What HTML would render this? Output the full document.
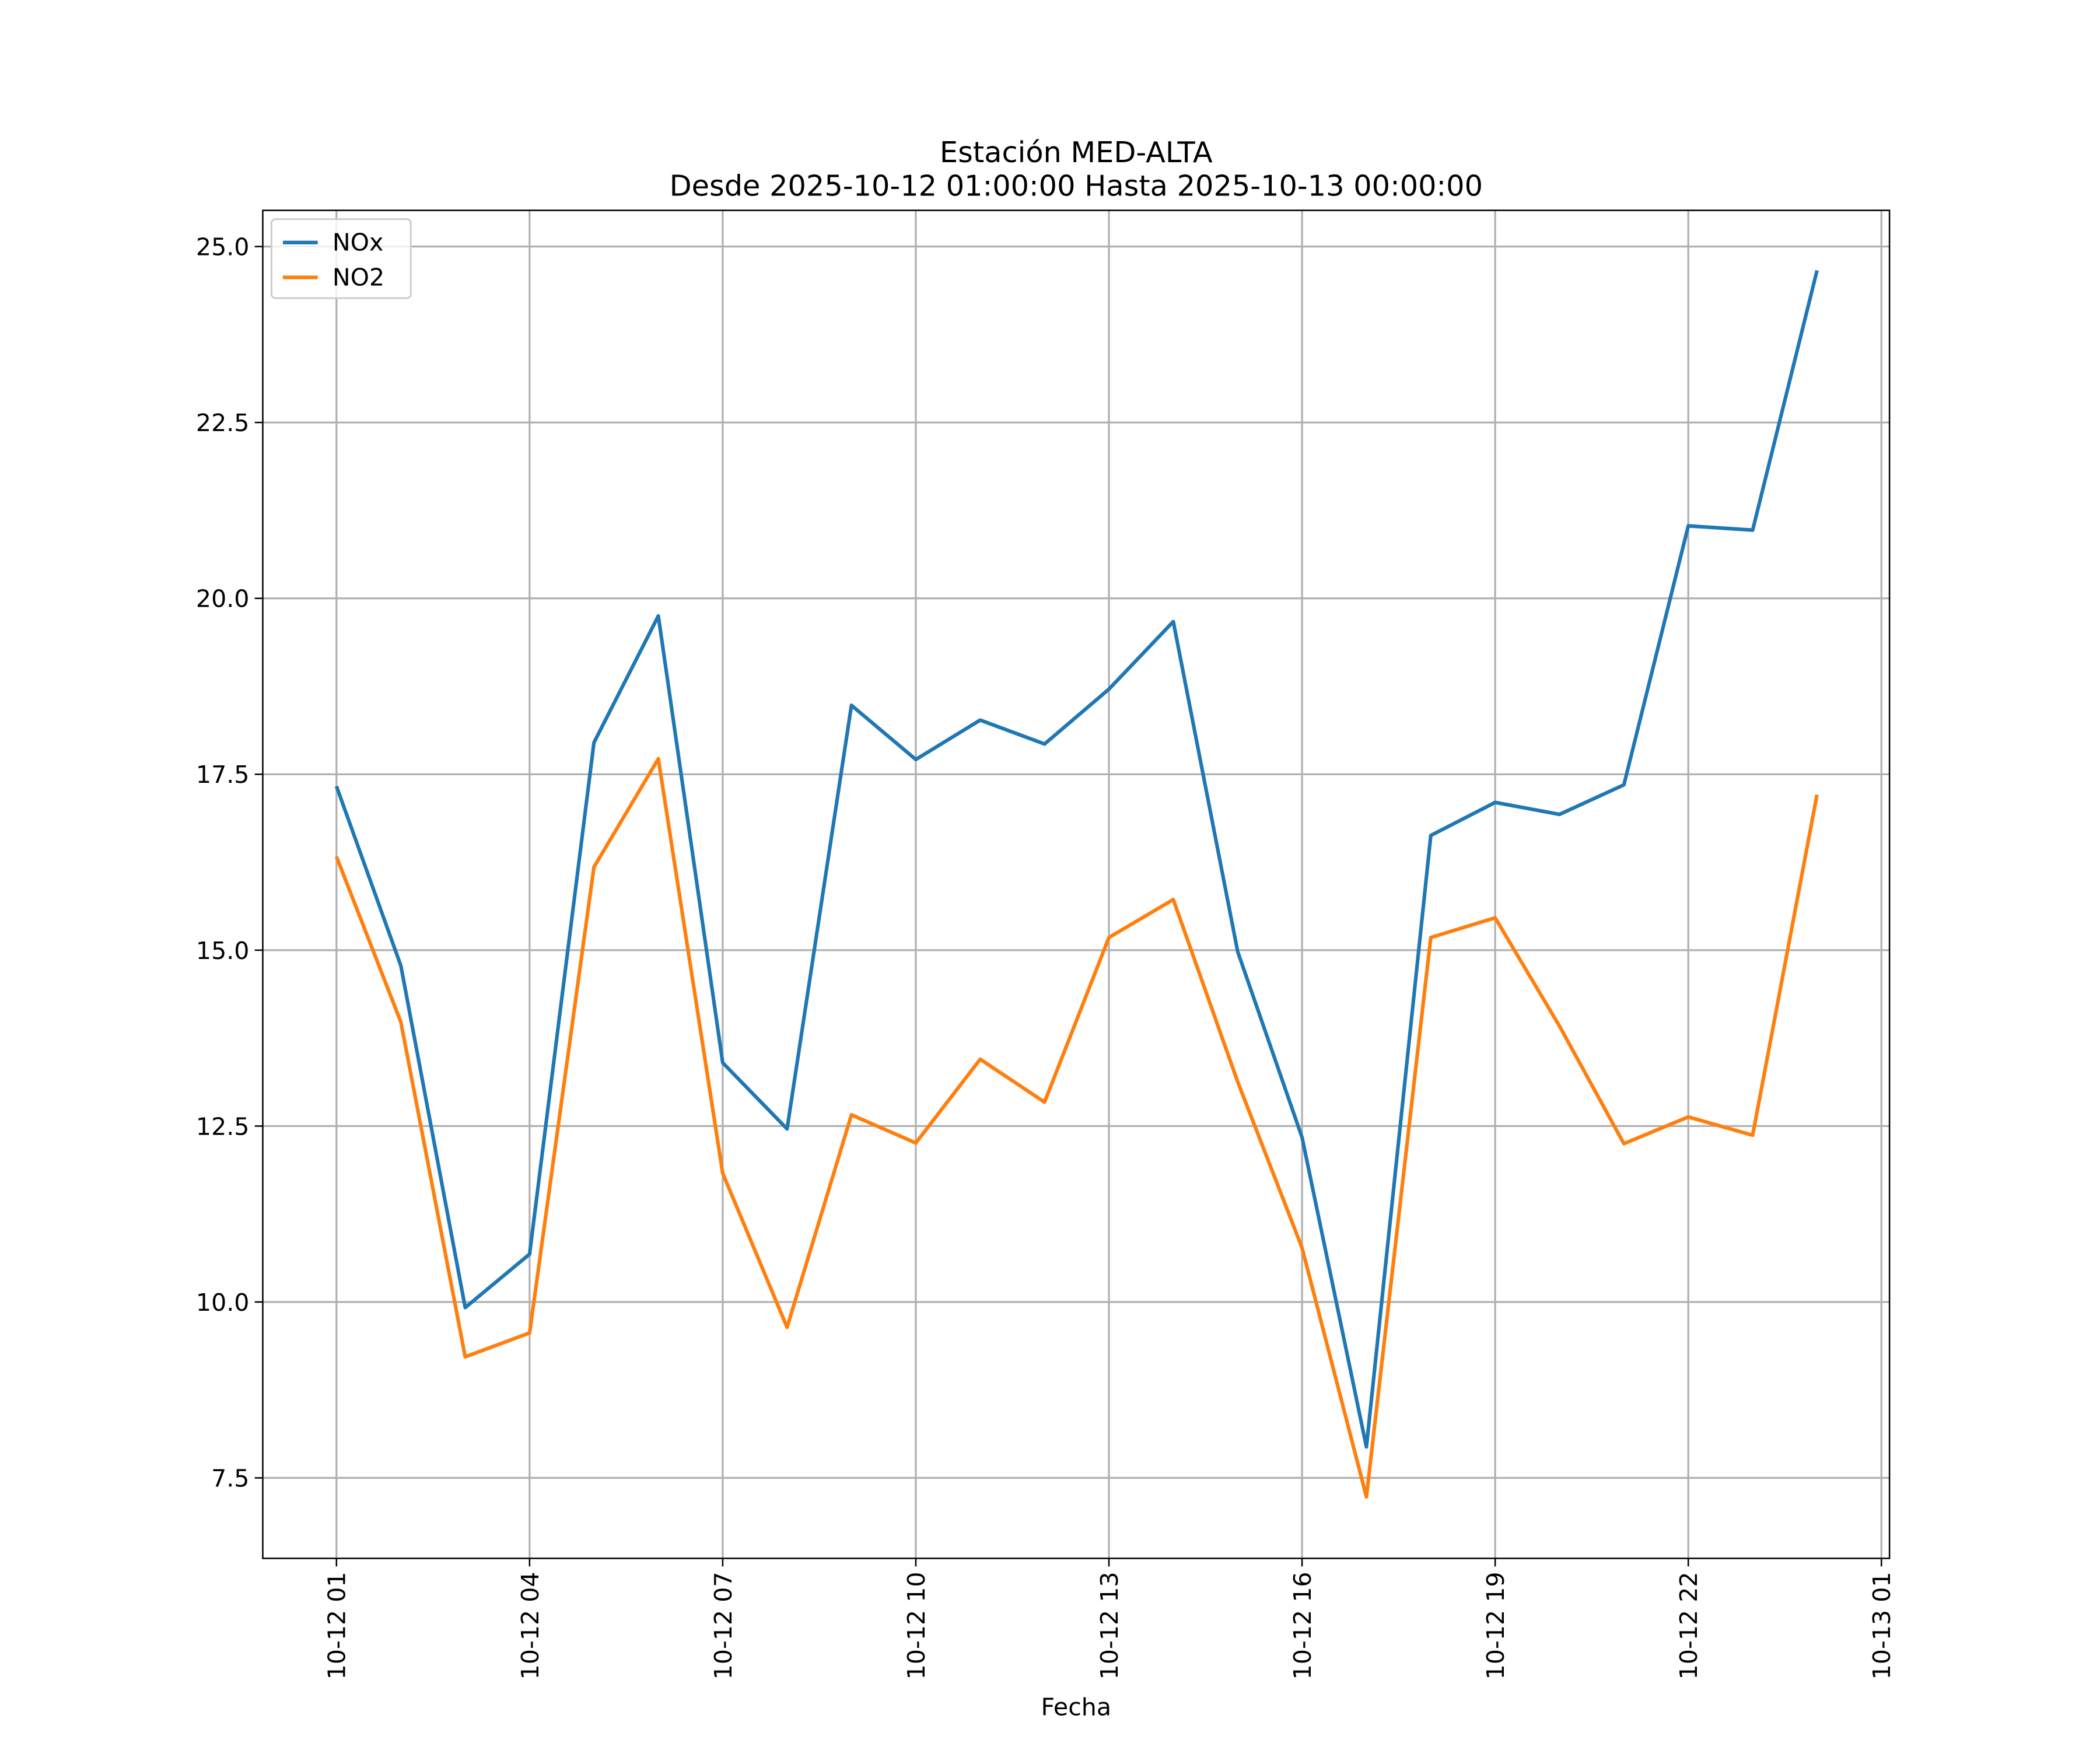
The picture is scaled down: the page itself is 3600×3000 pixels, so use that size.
<!DOCTYPE html>
<html><head><meta charset="utf-8"><style>html,body{margin:0;padding:0;background:#fff}svg{display:block}</style></head>
<body>
<svg id="chart" xmlns="http://www.w3.org/2000/svg" width="3600" height="3000" viewBox="0 0 1567 1306" font-family="'DejaVu Sans','Liberation Sans',sans-serif">
<rect width="1567" height="1306" fill="#fff"/>
<text x="803" y="121" font-size="21.5" text-anchor="middle">Estación MED-ALTA</text>
<text x="803" y="146" font-size="21.5" text-anchor="middle">Desde 2025-10-12 01:00:00 Hasta 2025-10-13 00:00:00</text>
<g id="grid"></g><g id="series"></g>
<rect x="196" y="157" width="1214" height="1006" fill="none" stroke="#000" stroke-width="1.1"/>
<g id="ticks"></g>
<text x="803" y="1280" font-size="17.9" text-anchor="middle">Fecha</text>
<g>
<rect x="202.5" y="163.5" width="104" height="59" rx="3" fill="#fff" fill-opacity="0.8" stroke="#ccc" stroke-width="1.3"/>
<line x1="211" y1="181" x2="237" y2="181" stroke="#1f77b4" stroke-width="2.7"/>
<text x="248" y="187" font-size="17.9">NOx</text>
<line x1="211" y1="207" x2="237" y2="207" stroke="#ff7f0e" stroke-width="2.7"/>
<text x="248" y="213" font-size="17.9">NO2</text>
</g>
</svg>
<script>
const hours = [0,1,2,3,4,5,6,7,8,9,10,11,12,13,14,15,16,17,18,19,20,21,22,23];
const noxValues = [17.33,14.78,9.92,10.68,17.95,19.75,13.4,12.46,18.48,17.71,18.27,17.93,18.71,19.67,14.98,12.34,7.94,16.63,17.1,16.93,17.35,21.03,20.97,24.66];
const no2Values = [16.33,13.98,9.22,9.56,16.18,17.72,11.83,9.64,12.66,12.26,13.45,12.84,15.18,15.72,13.13,10.77,7.23,15.18,15.46,13.92,12.25,12.63,12.37,17.21];
const yTicks = [7.5,10.0,12.5,15.0,17.5,20.0,22.5,25.0];
const xTickHours = [0,3,6,9,12,15,18,21,24];
const xTickLabels = ["10-12 01","10-12 04","10-12 07","10-12 10","10-12 13","10-12 16","10-12 19","10-12 22","10-13 01"];
const NS="http://www.w3.org/2000/svg";
function xs(h){return 251+h*48.04;}
function ys(v){return 184+(25-v)*52.51;}
function mk(tag,attrs,parent){const e=document.createElementNS(NS,tag);for(const k in attrs)e.setAttribute(k,attrs[k]);parent.appendChild(e);return e;}
const grid=document.getElementById('grid'),ticks=document.getElementById('ticks'),series=document.getElementById('series');
yTicks.forEach(v=>{
  const g=mk('line',{x1:196,x2:1410,y1:ys(v),y2:ys(v),stroke:'#b0b0b0','stroke-width':1.4},grid);
  
  
  mk('line',{x1:190,x2:196,y1:ys(v),y2:ys(v),stroke:'#000','stroke-width':1.1},ticks);
  const t=mk('text',{x:186,y:ys(v)+6.5,'font-size':17.9,'text-anchor':'end'},ticks);
  
  
  t.textContent=v.toFixed(1);
});
xTickHours.forEach((h,i)=>{
  const x=xs(h);
  const g=mk('line',{x1:x,x2:x,y1:157,y2:1163,stroke:'#b0b0b0','stroke-width':1.4},grid);
  
  
  mk('line',{x1:x,x2:x,y1:1163,y2:1169,stroke:'#000','stroke-width':1.1},ticks);
  const t=mk('text',{x:0,y:0,'font-size':17.9,'text-anchor':'end',transform:`translate(${x+6.5},1173) rotate(-90)`},ticks);
  
  
  t.textContent=xTickLabels[i];
});
function line(vals,color,name){
  const p=mk('polyline',{points:vals.map((v,i)=>xs(hours[i])+','+ys(v)).join(' '),fill:'none',stroke:color,'stroke-width':2.7,'stroke-linejoin':'round'},series);
  
  
}
line(noxValues,'#1f77b4','nox-line');
line(no2Values,'#ff7f0e','no2-line');
</script>
</body></html>
